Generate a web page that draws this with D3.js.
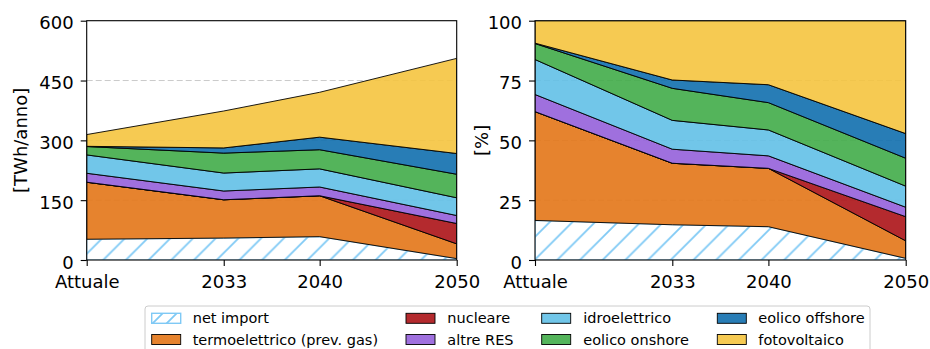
<!DOCTYPE html>
<html>
<head>
<meta charset="utf-8">
<script src="https://cdn.jsdelivr.net/npm/d3@7"></script>
<style>
  body { margin: 0; background: #fff; }
  svg { display: block; }
  text { font-family: "DejaVu Sans", sans-serif; fill: #000; }
</style>
</head>
<body>
<svg id="chart" width="930" height="349"></svg>
<script>
// Periods on the x axis ("Attuale" is placed at 2023 on a linear year scale)
const periods = ["Attuale", "2033", "2040", "2050"];
const periodYears = [2023, 2033, 2040, 2050];

// Yearly energy by source [TWh/anno], stacked bottom to top
const netImport      = [52, 55, 58.5, 3.5];
const termoelettrico = [143, 96, 102.5, 37];
const nucleare       = [0, 0, 0, 51];
const altreRES       = [22.5, 22, 22, 20];
const idroelettrico  = [46, 45, 45.5, 44.5];
const eolicoOnshore  = [21, 50, 48, 59];
const eolicoOffshore = [0.5, 13, 31.5, 52];
const fotovoltaico   = [29.5, 92.6, 112.5, 238.5];

const seriesKeys   = ["net import", "termoelettrico (prev. gas)", "nucleare", "altre RES",
                      "idroelettrico", "eolico onshore", "eolico offshore", "fotovoltaico"];
const seriesValues = [netImport, termoelettrico, nucleare, altreRES,
                      idroelettrico, eolicoOnshore, eolicoOffshore, fotovoltaico];
const seriesColors = [null, "#e37517", "#ac1317", "#9560da",
                      "#62c0e7", "#41ac49", "#116fae", "#f5c43f"];
const hatchColor = "#7fc9f5";

const absTicks = [0, 150, 300, 450, 600];
const pctTicks = [0, 25, 50, 75, 100];

// rows for d3.stack
const rows = periodYears.map((yr, i) => {
  const r = { year: yr, label: periods[i] };
  seriesKeys.forEach((k, j) => { r[k] = seriesValues[j][i]; });
  return r;
});

const svg = d3.select("#chart");
const defs = svg.append("defs");

const hs = 22.7;
const pat = defs.append("pattern")
  .attr("id", "hatch").attr("patternUnits", "userSpaceOnUse")
  .attr("width", hs).attr("height", hs);
pat.append("path")
  .attr("d", `M-2,2 L2,-2 M0,${hs} L${hs},0 M${hs - 2},${hs + 2} L${hs + 2},${hs - 2}`)
  .attr("stroke", hatchColor).attr("stroke-width", 1.8);

const legPat = defs.append("pattern")
  .attr("id", "hatchLeg").attr("patternUnits", "userSpaceOnUse")
  .attr("width", 14).attr("height", 14);
legPat.append("path")
  .attr("d", "M-2,2 L2,-2 M0,14 L14,0 M12,16 L16,12")
  .attr("stroke", hatchColor).attr("stroke-width", 1.8);

const plotTop = 20.7, plotBottom = 260;

function panel(id, left, right, offset, yMax, ticks, tickFmt, yLabel, yLabelX) {
  const x = d3.scaleLinear().domain([periodYears[0], periodYears[periodYears.length - 1]]).range([left, right]);
  const y = d3.scaleLinear().domain([0, yMax]).range([plotBottom, plotTop]);
  const g = svg.append("g");

  defs.append("clipPath").attr("id", "clip" + id)
    .append("rect").attr("x", left).attr("y", plotTop).attr("width", right - left).attr("height", plotBottom - plotTop);

  // dashed grid, behind the areas
  g.append("g").selectAll("line").data(ticks.slice(1, -1)).join("line")
    .attr("x1", left).attr("x2", right)
    .attr("y1", d => y(d)).attr("y2", d => y(d))
    .attr("stroke", "#c4c4c4").attr("stroke-width", 0.9).attr("stroke-dasharray", "6,3");

  const stacked = d3.stack().keys(seriesKeys).offset(offset)(rows);
  const area = d3.area()
    .x(d => x(d.data.year)).y0(d => y(d[0])).y1(d => y(d[1]));

  const ga = g.append("g").attr("clip-path", `url(#clip${id})`);
  stacked.forEach((s, i) => {
    if (i === 0) {
      ga.append("path").attr("d", area(s)).attr("fill", "#fff").attr("fill-opacity", 0.9);
      ga.append("path").attr("d", area(s)).attr("fill", "url(#hatch)")
        .attr("stroke", hatchColor).attr("stroke-width", 1.2);
    } else {
      ga.append("path").attr("d", area(s))
        .attr("fill", seriesColors[i]).attr("fill-opacity", 0.9)
        .attr("stroke", "#000").attr("stroke-width", 0.9).attr("stroke-linejoin", "round");
    }
  });

  // frame
  g.append("rect").attr("x", left).attr("y", plotTop).attr("width", right - left).attr("height", plotBottom - plotTop)
    .attr("fill", "none").attr("stroke", "#000").attr("stroke-width", 1.1);

  // axes
  const ya = g.append("g").attr("transform", `translate(${left},0)`)
    .call(d3.axisLeft(y).tickValues(ticks).tickSize(6).tickPadding(7).tickFormat(tickFmt));
  const xa = g.append("g").attr("transform", `translate(0,${plotBottom})`)
    .call(d3.axisBottom(x).tickValues(periodYears).tickSize(6).tickPadding(9)
      .tickFormat((d, i) => periods[i]));
  [ya, xa].forEach(a => {
    a.select(".domain").remove();
    a.selectAll(".tick line").attr("stroke", "#000").attr("stroke-width", 1.1);
    a.selectAll(".tick text").attr("font-size", 18).attr("fill", "#000")
      .style("font-family", '"DejaVu Sans", sans-serif');
  });
  ya.selectAll(".tick text").attr("dy", "0.45em");

  g.append("text")
    .attr("transform", `translate(${yLabelX},${(plotTop + plotBottom) / 2}) rotate(-90)`)
    .attr("text-anchor", "middle").attr("dominant-baseline", "central")
    .attr("font-size", 18).text(yLabel);
}

panel("A", 86.7, 456.7, d3.stackOffsetNone, 600, absTicks, d3.format("d"), "[TWh/anno]", 20.5);
panel("B", 535, 905.7, d3.stackOffsetExpand, 1, pctTicks.map(v => v / 100),
      d => String(Math.round(d * 100)), "[%]", 481);

// legend
const leg = svg.append("g");
leg.append("rect").attr("x", 145).attr("y", 306).attr("width", 725).attr("height", 52)
  .attr("rx", 3).attr("fill", "#fff").attr("fill-opacity", 0.8)
  .attr("stroke", "#cccccc").attr("stroke-width", 1);

const colPatchX = [151.7, 406, 541.7, 717.3];
const colTextX = [192.7, 447.3, 583.3, 758.3];
const rowPatchY = [313.3, 334.5];
const rowTextY = [323, 344.5];
seriesKeys.forEach((k, i) => {
  const c = Math.floor(i / 2), r = i % 2;
  const p = leg.append("rect").attr("x", colPatchX[c]).attr("y", rowPatchY[r])
    .attr("width", 29).attr("height", 10);
  if (i === 0) {
    p.attr("fill", "url(#hatchLeg)").attr("stroke", hatchColor).attr("stroke-width", 1.4);
  } else {
    p.attr("fill", seriesColors[i]).attr("fill-opacity", 0.9).attr("stroke", "#000").attr("stroke-width", 0.9);
  }
  leg.append("text").attr("x", colTextX[c]).attr("y", rowTextY[r])
    .attr("font-size", 14.5).text(k);
});
</script>
</body>
</html>
